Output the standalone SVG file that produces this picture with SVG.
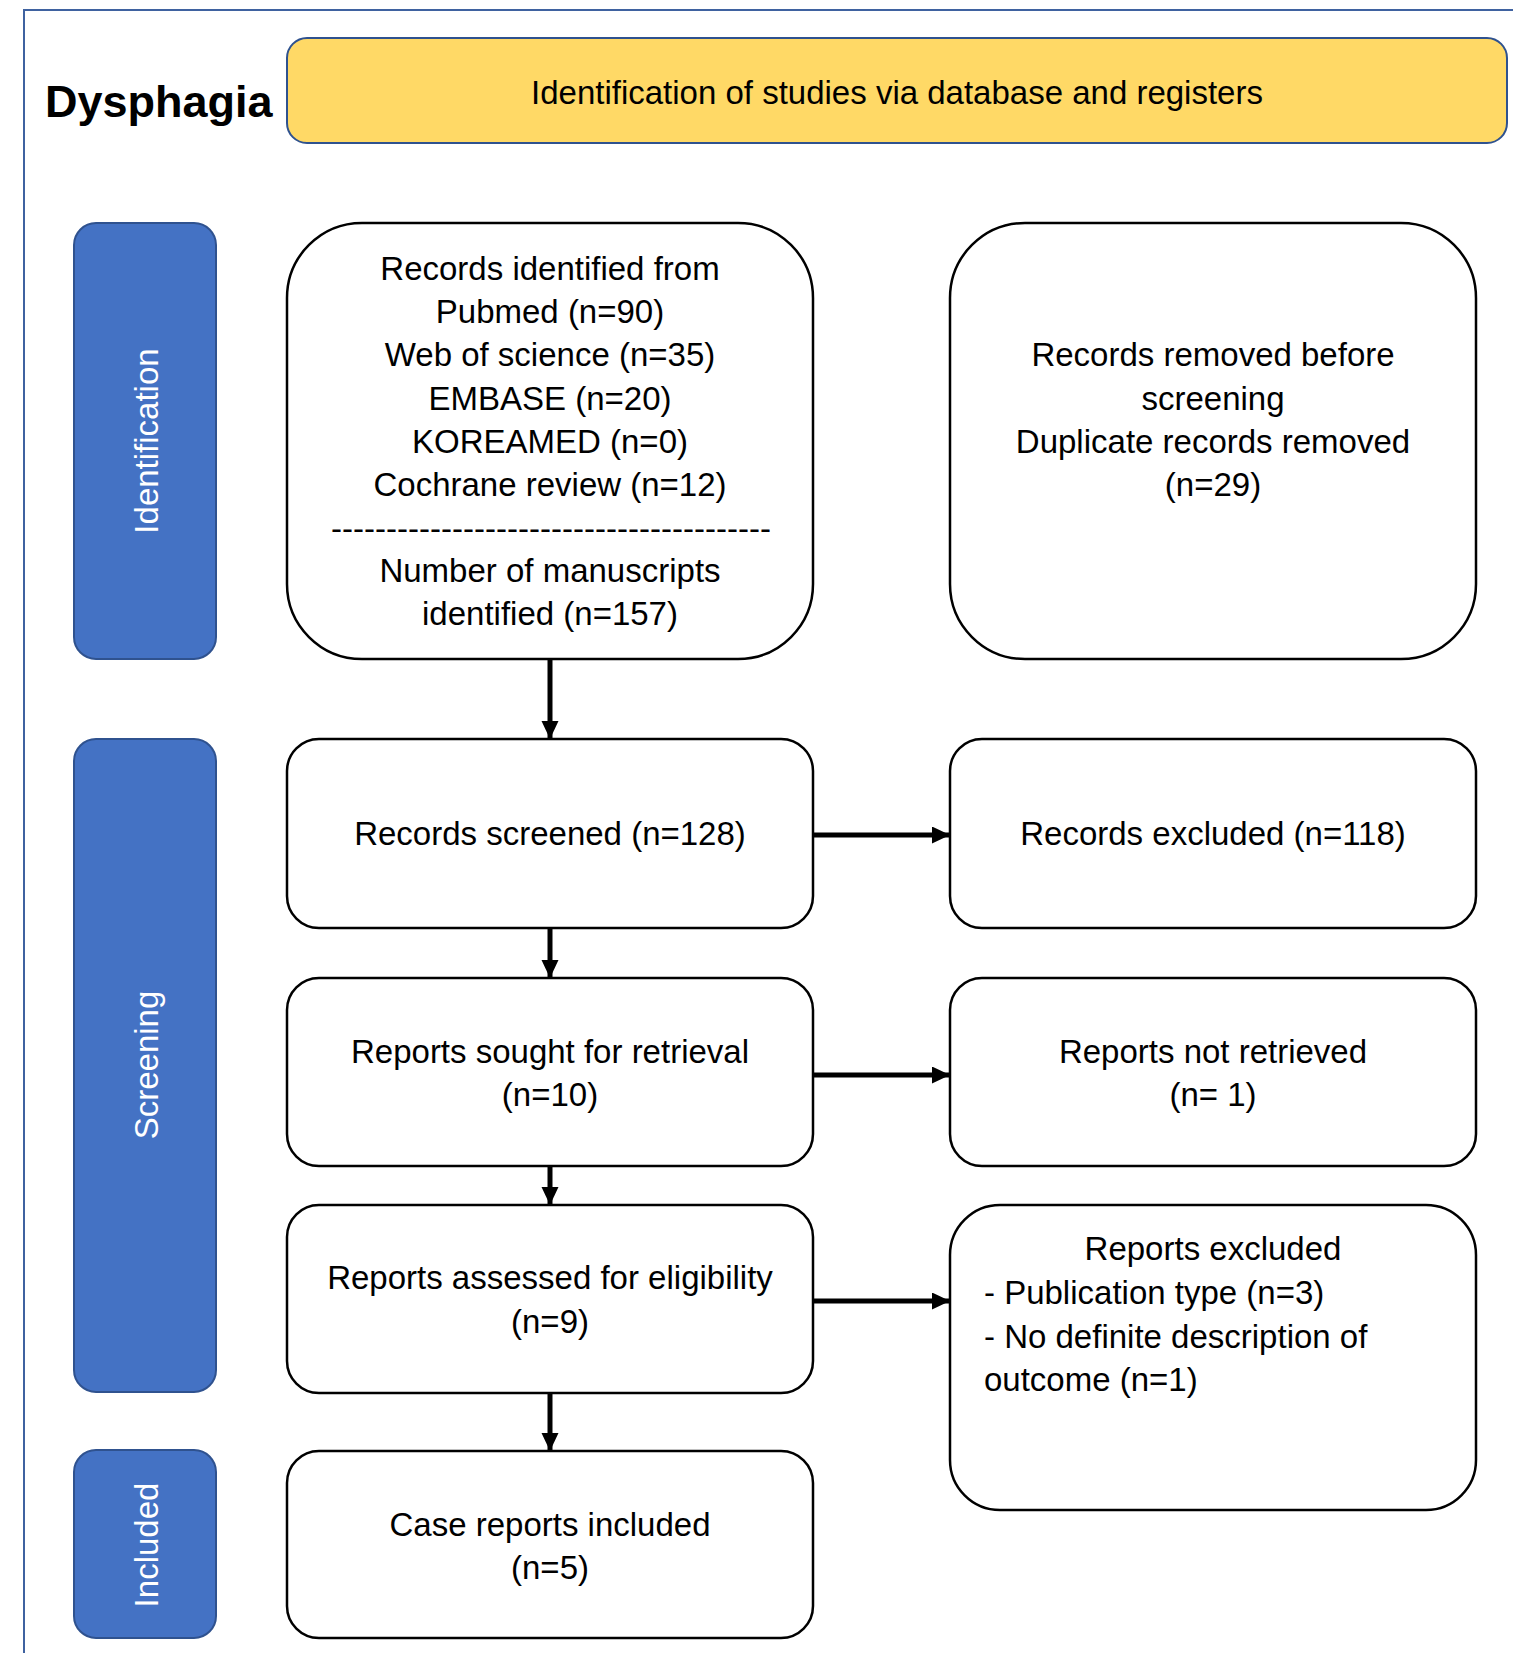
<svg xmlns="http://www.w3.org/2000/svg" width="1513" height="1653" viewBox="0 0 1513 1653">
<style>
.t{font-family:"Liberation Sans",Arial,sans-serif;font-size:33px;fill:#000;text-anchor:middle}
.l{text-anchor:start}
.w{fill:#fff}
.box{fill:#fff;stroke:#000;stroke-width:2.5}
.side{fill:#4472C4;stroke:#2F528F;stroke-width:2}
.conn{stroke:#000;stroke-width:5;fill:none;marker-end:url(#ah)}
</style>
<defs>
<marker id="ah" markerUnits="userSpaceOnUse" markerWidth="20" markerHeight="18" refX="18" refY="8.5" orient="auto">
<path d="M0,0 L18,8.5 L0,17 z" fill="#000"/>
</marker>
</defs>
<rect width="1513" height="1653" fill="#fff"/>
<rect x="24" y="10" width="1540" height="1700" fill="none" stroke="#3F62A0" stroke-width="2"/>
<g id="title"><text x="45" y="117" style="font-family:'Liberation Sans',Arial,sans-serif;font-size:45px;font-weight:bold">Dysphagia</text></g>
<g id="header">
<rect x="287" y="38" width="1220" height="105" rx="20" fill="#FFD966" stroke="#2F528F" stroke-width="2"/>
<text class="t" x="897" y="104">Identification of studies via database and registers</text>
</g>
<g id="lane-identification">
<rect class="side" x="74" y="223" width="142" height="436" rx="22"/>
<text class="t w" transform="translate(145.5,441) rotate(-90)" y="12">Identification</text>
</g>
<g id="lane-screening">
<rect class="side" x="74" y="739" width="142" height="653" rx="22"/>
<text class="t w" transform="translate(145.5,1065) rotate(-90)" y="12">Screening</text>
</g>
<g id="lane-included">
<rect class="side" x="74" y="1450" width="142" height="188" rx="22"/>
<text class="t w" transform="translate(145.5,1545) rotate(-90)" y="12">Included</text>
</g>
<g id="records-identified">
<rect class="box" x="287" y="223" width="526" height="436" rx="75"/>
<text class="t" x="550" y="280">Records identified from</text>
<text class="t" x="550" y="323">Pubmed (n=90)</text>
<text class="t" x="550" y="366">Web of science (n=35)</text>
<text class="t" x="550" y="410">EMBASE (n=20)</text>
<text class="t" x="550" y="453">KOREAMED (n=0)</text>
<text class="t" x="550" y="496">Cochrane review (n=12)</text>
<text class="t" x="551" y="540" textLength="440" lengthAdjust="spacing">----------------------------------------</text>
<text class="t" x="550" y="582">Number of manuscripts</text>
<text class="t" x="550" y="625">identified (n=157)</text>
</g>
<g id="records-removed">
<rect class="box" x="950" y="223" width="526" height="436" rx="75"/>
<text class="t" x="1213" y="366">Records removed before</text>
<text class="t" x="1213" y="410">screening</text>
<text class="t" x="1213" y="453">Duplicate records removed</text>
<text class="t" x="1213" y="496">(n=29)</text>
</g>
<g id="records-screened">
<rect class="box" x="287" y="739" width="526" height="189" rx="32"/>
<text class="t" x="550" y="845">Records screened (n=128)</text>
</g>
<g id="records-excluded">
<rect class="box" x="950" y="739" width="526" height="189" rx="32"/>
<text class="t" x="1213" y="845">Records excluded (n=118)</text>
</g>
<g id="reports-sought">
<rect class="box" x="287" y="978" width="526" height="188" rx="32"/>
<text class="t" x="550" y="1063">Reports sought for retrieval</text>
<text class="t" x="550" y="1106">(n=10)</text>
</g>
<g id="reports-not-retrieved">
<rect class="box" x="950" y="978" width="526" height="188" rx="32"/>
<text class="t" x="1213" y="1063">Reports not retrieved</text>
<text class="t" x="1213" y="1106">(n= 1)</text>
</g>
<g id="reports-assessed">
<rect class="box" x="287" y="1205" width="526" height="188" rx="32"/>
<text class="t" x="550" y="1289">Reports assessed for eligibility</text>
<text class="t" x="550" y="1333">(n=9)</text>
</g>
<g id="reports-excluded">
<rect class="box" x="950" y="1205" width="526" height="305" rx="50"/>
<text class="t" x="1213" y="1260">Reports excluded</text>
<text class="t l" x="984" y="1304">- Publication type (n=3)</text>
<text class="t l" x="984" y="1348">- No definite description of</text>
<text class="t l" x="984" y="1391">outcome (n=1)</text>
</g>
<g id="case-reports">
<rect class="box" x="287" y="1451" width="526" height="187" rx="32"/>
<text class="t" x="550" y="1536">Case reports included</text>
<text class="t" x="550" y="1579">(n=5)</text>
</g>
<g id="connectors">
<line class="conn" x1="550" y1="659" x2="550" y2="739"/>
<line class="conn" x1="550" y1="928" x2="550" y2="978"/>
<line class="conn" x1="550" y1="1166" x2="550" y2="1205"/>
<line class="conn" x1="550" y1="1393" x2="550" y2="1451"/>
<line class="conn" x1="813" y1="835" x2="950" y2="835"/>
<line class="conn" x1="813" y1="1075" x2="950" y2="1075"/>
<line class="conn" x1="813" y1="1301" x2="950" y2="1301"/>
</g>
</svg>
